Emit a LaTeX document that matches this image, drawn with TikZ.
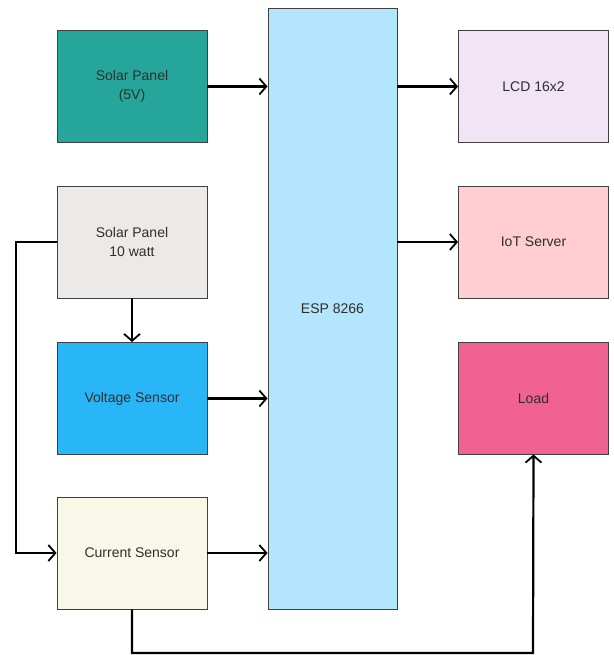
\documentclass[tikz,border=0pt]{standalone}
\usepackage{fontspec}
\setmainfont{Liberation Sans}
\usetikzlibrary{arrows.meta}
\definecolor{teal5}{HTML}{26A69A}
\definecolor{grey10}{HTML}{ECEAE8}
\definecolor{volt}{HTML}{29B6F6}
\definecolor{curr}{HTML}{F7F8E8}
\definecolor{esp}{HTML}{B3E5FC}
\definecolor{lcd}{HTML}{F1E4F5}
\definecolor{iot}{HTML}{FFCDD2}
\definecolor{load}{HTML}{F06292}
\definecolor{txt}{HTML}{2E2E2E}
\begin{document}
\begin{tikzpicture}[x=1pt,y=-1pt,
  blk/.style={draw=black!75,line width=0.9pt,minimum width=150pt,minimum height=112pt,
    inner sep=0pt,align=center,font=\fontsize{14}{19}\selectfont,text=txt},
  conn/.style={line width=2.2pt,-{Straight Barb[length=7pt,width=16pt,line width=1.8pt]}}]
\useasboundingbox (0,0) rectangle (613,655);
\node[blk,fill=teal5] (sp5) at (132,86.5) {Solar Panel\\(5V)};
\node[blk,fill=grey10] (sp10) at (132,242) {Solar Panel\\10 watt};
\node[blk,fill=volt] (vs) at (132,398.5) {Voltage Sensor};
\node[blk,fill=curr] (cs) at (132,553) {Current Sensor};
\node[blk,fill=esp,minimum width=129pt,minimum height=601pt] (esp) at (332.5,308.5) {ESP 8266};
\node[blk,fill=lcd] (lcd) at (533.5,86.5) {LCD 16x2};
\node[blk,fill=iot] (iot) at (533.5,242) {IoT Server};
\node[blk,fill=load] (ld) at (533.5,398) {Load};
\coordinate (tl) at (16,242);
\coordinate (bl) at (16,553);
\coordinate (bm) at (132,653);
\coordinate (br) at (533,653);
\draw[conn] (sp5.east) -- (sp5.east -| esp.west);
\draw[conn] (vs.east) -- (vs.east -| esp.west);
\draw[conn] (cs.east) -- (cs.east -| esp.west);
\draw[conn] (lcd.west -| esp.east) -- (lcd.west);
\draw[conn] (iot.west -| esp.east) -- (iot.west);
\draw[conn] (sp10.south) -- (vs.north);
\draw[conn] (sp10.west) -- (tl) -- (bl) -- (cs.west);
\draw[conn] (cs.south) -- (bm) -- (br) -- (ld.south);
\end{tikzpicture}
\end{document}
